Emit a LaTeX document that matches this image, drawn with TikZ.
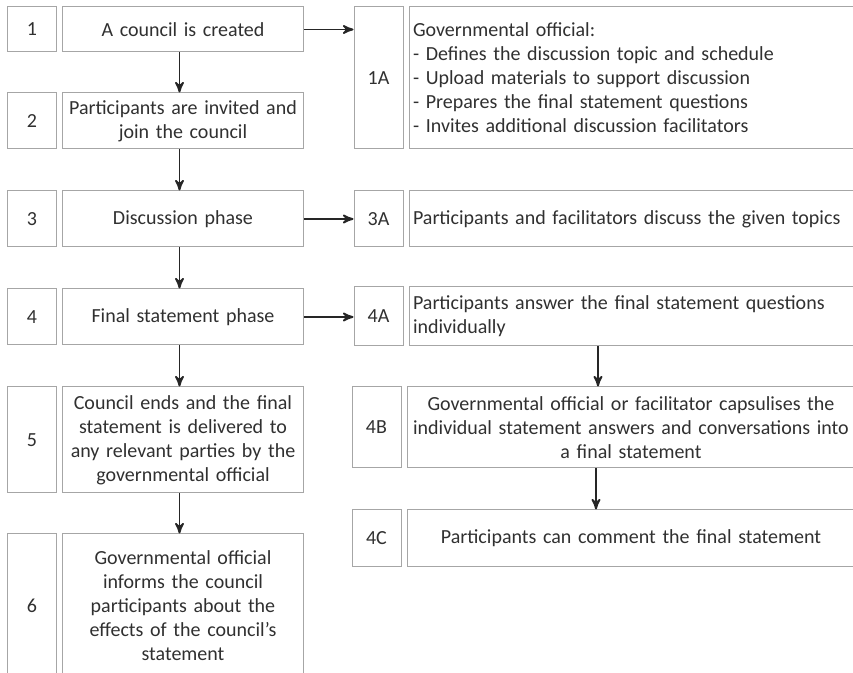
\documentclass[tikz,border=0pt]{standalone}
\usepackage{fontspec}
\setmainfont{Carlito}
\usepackage{tikz}
\usetikzlibrary{arrows}
\usetikzlibrary{positioning}
\definecolor{boxgray}{HTML}{A6A6A6}
\definecolor{txtgray}{HTML}{303030}
\definecolor{arrowgray}{HTML}{262626}
\tikzset{
	num node/.style={draw=boxgray,line width=0.5pt,inner sep=2pt,minimum width=24.5pt,
		text=txtgray,font=\fontsize{10}{12}\selectfont},
	step node/.style={draw=boxgray,line width=0.5pt,inner sep=2pt,minimum width=120.5pt,
		text width=116.5pt,align=center,text=txtgray,font=\fontsize{10}{12}\selectfont},
	sub node/.style={draw=boxgray,line width=0.5pt,inner sep=2pt,minimum width=224pt,
		text width=220pt,align=left,text=txtgray,font=\fontsize{10}{12}\selectfont},
	flow/.style={line width=0.9pt,draw=arrowgray}
}

\begin{document}
\begin{tikzpicture}[->,>=stealth',x=0.5pt,y=-0.5pt]
	\useasboundingbox (0,0) rectangle (853,673);
	% main steps
	\node [num node,minimum height=22.5pt] (n1) at (32,29.5) {1};
	\node [step node,minimum height=22.5pt,right=2.5pt of n1] (t1) {A council is created};
	\node [num node,minimum height=28pt] (n2) at (32,121) {2};
	\node [step node,minimum height=28pt,right=2.5pt of n2] (t2) {Participants are invited and\\join the council};
	\node [num node,minimum height=28pt] (n3) at (32,219) {3};
	\node [step node,minimum height=28pt,right=2.5pt of n3] (t3) {Discussion phase};
	\node [num node,minimum height=28pt] (n4) at (32,317) {4};
	\node [step node,minimum height=28pt,right=2.5pt of n4] (t4) {Final statement phase};
	\node [num node,minimum height=53pt] (n5) at (32,440) {5};
	\node [step node,minimum height=53pt,right=2.5pt of n5] (t5) {Council ends and the final\\statement is delivered to\\any relevant parties by the\\governmental official};
	\node [num node,minimum height=72pt] (n6) at (32,606) {6};
	\node [step node,minimum height=72pt,right=2.5pt of n6] (t6) {Governmental official\\informs the council\\participants about the\\effects of the council's\\statement};
	% sub steps
	\node [num node,minimum height=71pt] (n1a) at (378.5,78) {1A};
	\node [sub node,minimum height=71pt,right=2.5pt of n1a] (t1a) {Governmental official:\\- Defines the discussion topic and schedule\\- Upload materials to support discussion\\- Prepares the final statement questions\\- Invites additional discussion facilitators};
	\node [num node,minimum height=28pt] (n3a) at (378.5,219) {3A};
	\node [sub node,minimum height=28pt,right=2.5pt of n3a] (t3a) {Participants and facilitators discuss the given topics};
	\node [num node,minimum height=29.5pt] (n4a) at (378.5,316.5) {4A};
	\node [sub node,minimum height=29.5pt,right=2.5pt of n4a] (t4a) {Participants answer the final statement questions\\individually};
	\node [num node,minimum height=40.5pt] (n4b) at (376.5,427.5) {4B};
	\node [sub node,minimum height=40.5pt,align=center,right=2.5pt of n4b] (t4b) {Governmental official or facilitator capsulises the\\individual statement answers and conversations into\\a final statement};
	\node [num node,minimum height=28.5pt] (n4c) at (376.5,538.5) {4C};
	\node [sub node,minimum height=28.5pt,align=center,right=2.5pt of n4c] (t4c) {Participants can comment the final statement};
	% connectors
	\draw [flow] ([xshift=-1.75pt]t1.south) -- ([xshift=-1.75pt]t2.north);
	\draw [flow] ([xshift=-1.75pt]t2.south) -- ([xshift=-1.75pt]t3.north);
	\draw [flow] ([xshift=-1.75pt]t3.south) -- ([xshift=-1.75pt]t4.north);
	\draw [flow] ([xshift=-1.75pt]t4.south) -- ([xshift=-1.75pt]t5.north);
	\draw [flow] ([xshift=-1.75pt]t5.south) -- ([xshift=-1.75pt]t6.north);
	\draw [flow] (t1.east) -- (t1.east -| n1a.west);
	\draw [flow] (t3.east) -- (t3.east -| n3a.west);
	\draw [flow] (t4.east) -- (t4.east -| n4a.west);
	\draw [flow] ([xshift=-17.5pt]t4a.south) -- ([xshift=-17.5pt]t4a.south |- t4b.north);
	\draw [flow] ([xshift=-17.5pt]t4b.south) -- ([xshift=-17.5pt]t4b.south |- t4c.north);
\end{tikzpicture}
\end{document}
